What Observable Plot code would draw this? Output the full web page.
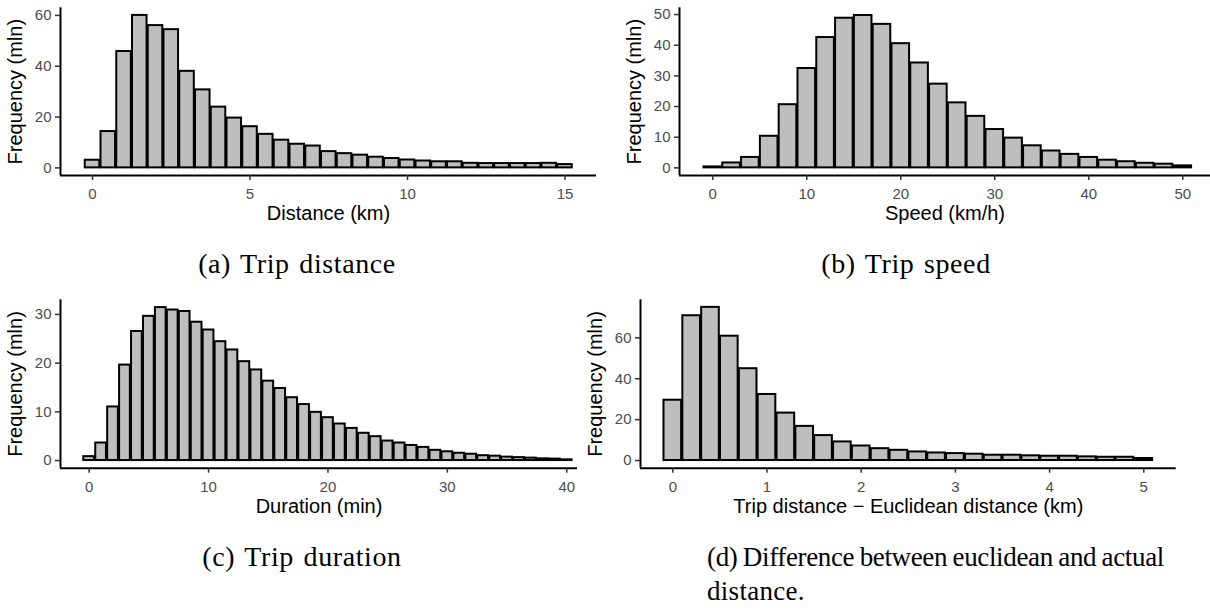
<!DOCTYPE html>
<html><head><meta charset="utf-8">
<script src="https://cdn.jsdelivr.net/npm/d3@7"></script>
<script src="https://cdn.jsdelivr.net/npm/@observablehq/plot@0.6"></script>
<style>
html,body{margin:0;padding:0;background:#fff;}
#root{position:relative;width:1210px;height:610px;overflow:hidden;background:#fff;}
.cap{position:absolute;font-family:"Liberation Serif","Times New Roman",serif;color:#000;white-space:nowrap;}
</style></head><body><div id="root"></div>
<script>
// (a) Trip distance, bin width 0.5 km
const distBins = [0,0.5,1,1.5,2,2.5,3,3.5,4,4.5,5,5.5,6,6.5,7,7.5,8,8.5,9,9.5,10,10.5,11,11.5,12,12.5,13,13.5,14,14.5,15];
const distFreq = [3.0,14.3,45.8,60.0,56.0,54.4,38.0,30.7,23.9,19.6,16.2,13.2,10.9,9.3,8.6,6.4,5.6,5.0,4.2,3.7,3.1,2.7,2.4,2.4,1.8,1.7,1.7,1.7,1.7,1.8,1.3];
// (b) Trip speed, bin width 2 km/h
const speedBins = [0,2,4,6,8,10,12,14,16,18,20,22,24,26,28,30,32,34,36,38,40,42,44,46,48,50];
const speedFreq = [0.3,1.6,3.4,10.3,20.6,32.4,42.5,48.8,49.7,46.8,40.5,34.2,27.3,21.2,16.8,12.5,9.7,7.2,5.5,4.4,3.4,2.5,2.0,1.5,1.2,0.65];
// (c) Trip duration, bin width 1 min
const durBins = [0,1,2,3,4,5,6,7,8,9,10,11,12,13,14,15,16,17,18,19,20,21,22,23,24,25,26,27,28,29,30,31,32,33,34,35,36,37,38,39,40];
const durFreq = [0.8,3.6,11.0,19.6,26.5,29.6,31.4,30.9,30.6,28.4,26.8,24.4,22.7,20.3,18.6,16.3,14.8,12.9,11.5,9.9,8.8,7.5,6.6,5.6,4.9,4.0,3.6,3.1,2.7,2.1,1.8,1.5,1.3,1.0,0.9,0.7,0.6,0.5,0.35,0.3,0.15];
// (d) Trip distance - Euclidean distance, bin width 0.2 km
const diffBins = [0,0.2,0.4,0.6,0.8,1,1.2,1.4,1.6,1.8,2,2.2,2.4,2.6,2.8,3,3.2,3.4,3.6,3.8,4,4.2,4.4,4.6,4.8,5];
const diffFreq = [29.5,70.8,74.9,60.8,44.9,32.3,23.2,16.7,12.2,9.1,7.1,5.8,5.0,4.2,3.7,3.4,3.1,2.6,2.6,2.3,2.1,2.1,1.8,1.6,1.6,1.0];

const distTicksX = [0,5,10,15], distTicksY = [0,20,40,60];
const speedTicksX = [0,10,20,30,40,50], speedTicksY = [0,10,20,30,40,50];
const durTicksX = [0,10,20,30,40], durTicksY = [0,10,20,30];
const diffTicksX = [0,1,2,3,4,5], diffTicksY = [0,20,40,60];

const yTitle = "Frequency (mln)";
const W = 1210, H = 610;
const root = document.getElementById("root");
const fmt = d3.format("~g");

function panel(o) {
  const data = o.bins.map((x, i) => ({x, v: o.freq[i]}));
  const [l, r, t, b] = o.frame;
  const xScale = {domain: o.xDomain};
  if (o.xRange) xScale.range = o.xRange;
  return Plot.plot({
    width: W, height: H,
    marginLeft: l, marginRight: W - r, marginTop: t, marginBottom: H - b,
    style: {background: "transparent", fontFamily: "'Liberation Sans', Arial, sans-serif", position: "absolute", left: "0px", top: "0px", overflow: "hidden"},
    x: xScale,
    y: {domain: o.yDomain},
    marks: [
      Plot.rect(data, {x1: d => d.x - o.bw / 2, x2: d => d.x + o.bw / 2, y1: 0, y2: "v", fill: "#bebebe", stroke: "#000", strokeWidth: 2, insetLeft: 0.6, insetRight: 0.6}),
      Plot.ruleY([o.yDomain[0]], {stroke: "#000", strokeWidth: 2}),
      Plot.ruleX([o.xDomain[0]], {stroke: "#000", strokeWidth: 2}),
      Plot.axisX({ticks: o.xTicks, tickFormat: fmt, tickSize: 5, tickPadding: 8, fontSize: 15, stroke: "#333", fill: "#4d4d4d", strokeWidth: 1.5, label: null}),
      Plot.axisY({ticks: o.yTicks, tickFormat: fmt, tickSize: 5, tickPadding: 4, fontSize: 15, stroke: "#333", fill: "#4d4d4d", strokeWidth: 1.5, label: null}),
      Plot.text([o.xLabel], {text: d => d, frameAnchor: "bottom", textAnchor: "middle", dy: 38, fontSize: 20, fill: "#000", lineAnchor: "middle"}),
      Plot.text([yTitle], {text: d => d, frameAnchor: "left", textAnchor: "middle", dx: -45, rotate: -90, fontSize: 20, fill: "#000", lineAnchor: "middle"})
    ]
  });
}

root.append(panel({bins: distBins, freq: distFreq, bw: 0.5, xDomain: [-1.017, 16.0], yDomain: [-3, 63],
  xTicks: distTicksX, yTicks: distTicksY, xLabel: "Distance (km)", frame: [60, 596, 7.3, 175]}));
root.append(panel({bins: speedBins, freq: speedFreq, bw: 2, xDomain: [-3.54, 53.64], xRange: [679, 1216.5], yDomain: [-2.49, 52.2],
  xTicks: speedTicksX, yTicks: speedTicksY, xLabel: "Speed (km/h)", frame: [679, 1210, 7.3, 175]}));
root.append(panel({bins: durBins, freq: durFreq, bw: 1, xDomain: [-2.4, 40.9], yDomain: [-1.57, 33.0],
  xTicks: durTicksX, yTicks: durTicksY, xLabel: "Duration (min)", frame: [60, 577, 299.3, 467.7]}));
root.append(panel({bins: diffBins, freq: diffFreq, bw: 0.2, xDomain: [-0.343, 5.344], yDomain: [-3.75, 78.6],
  xTicks: diffTicksX, yTicks: diffTicksY, xLabel: "Trip distance \u2212 Euclidean distance (km)", frame: [640, 1175.7, 299.3, 467.7]}));

const captions = [
  {text: "(a) Trip distance", cx: 297, base: 273.3, fs: 28, ls: 0.6, ws: 2},
  {text: "(b) Trip speed", cx: 906, base: 273.3, fs: 28, ls: 0.6, ws: 2},
  {text: "(c) Trip duration", cx: 302, base: 566, fs: 28, ls: 0.6, ws: 2},
  {text: "(d) Difference between euclidean and actual", left: 707, base: 566.7, fs: 27, ls: -0.35, ws: -1},
  {text: "distance.", left: 707, base: 600.7, fs: 27, ls: 0.3}
];
for (const c of captions) {
  const d = document.createElement("div");
  d.className = "cap";
  d.textContent = c.text;
  d.style.fontSize = c.fs + "px";
  d.style.lineHeight = c.fs + "px";
  d.style.top = (c.base - (c.fs - c.fs * 1.107) / 2 - 0.891 * c.fs) + "px";
  d.style.letterSpacing = c.ls + "px";
  if (c.ws) d.style.wordSpacing = c.ws + "px";
  if (c.left != null) d.style.left = c.left + "px";
  else { d.style.left = (c.cx - 300) + "px"; d.style.width = "600px"; d.style.textAlign = "center"; }
  root.append(d);
}
</script>
</body></html>
